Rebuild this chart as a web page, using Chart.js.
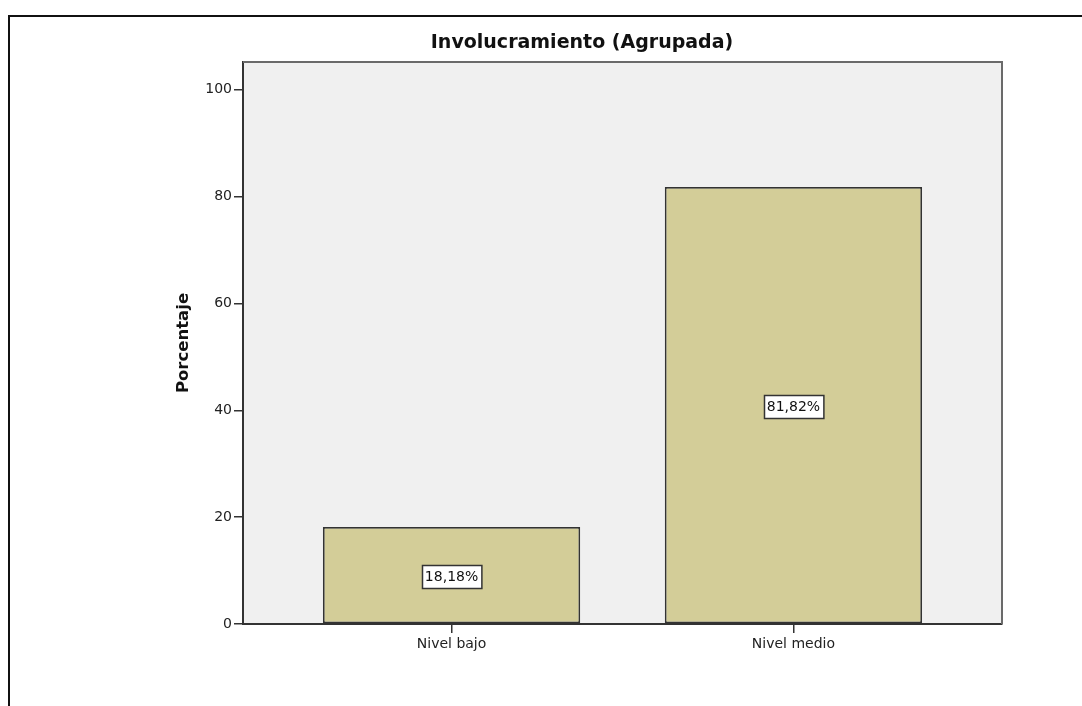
<!DOCTYPE html>
<html>
<head>
<meta charset="utf-8">
<script src="https://cdn.jsdelivr.net/npm/chart.js@4/dist/chart.umd.min.js"></script>
<style>
  html, body { margin: 0; padding: 0; background: #fff; }
  #wrap { width: 1082px; height: 706px; }
</style>
</head>
<body>
<div id="wrap"><canvas id="c" width="1082" height="706"></canvas></div>
<script>
const chartTitle = 'Involucramiento (Agrupada)';
const yAxisTitle = 'Porcentaje';
const categories = ['Nivel bajo', 'Nivel medio'];
const percentages = [18.18, 81.82];
const yTickValues = [0, 20, 40, 60, 80, 100];

const FONT = "'DejaVu Sans', sans-serif";

function formatPct(v) {
  return v.toFixed(2).replace('.', ',') + '%';
}

// Panel border, grey plot background, plot frame and boxed value labels
const plotFrame = {
  id: 'plotFrame',
  beforeDraw(chart) {
    const { ctx, chartArea: a } = chart;
    ctx.save();
    ctx.fillStyle = '#ffffff';
    ctx.fillRect(0, 0, chart.width, chart.height);
    ctx.fillStyle = '#111111';
    ctx.fillRect(8, 15, chart.width, 2);
    ctx.fillRect(8, 15, 2, chart.height);
    ctx.fillStyle = '#f0f0f0';
    ctx.fillRect(a.left, a.top, a.right - a.left, a.bottom - a.top);
    ctx.restore();
  },
  afterDatasetsDraw(chart) {
    const { ctx, chartArea: a } = chart;
    ctx.save();
    ctx.strokeStyle = '#6a6a6a';
    ctx.lineWidth = 2;
    ctx.beginPath();
    ctx.moveTo(a.left, a.top);
    ctx.lineTo(a.right, a.top);
    ctx.lineTo(a.right, a.bottom);
    ctx.stroke();

    const meta = chart.getDatasetMeta(0);
    ctx.font = '14px ' + FONT;
    ctx.textAlign = 'center';
    ctx.textBaseline = 'middle';
    meta.data.forEach((bar, i) => {
      const txt = formatPct(percentages[i]);
      const cy = (bar.y + bar.base) / 2 + 1.5;
      const w = ctx.measureText(txt).width + 6;
      const h = 23;
      const x0 = Math.round(bar.x - w / 2) + 0.5;
      const y0 = Math.round(cy - h / 2) + 0.5;
      ctx.fillStyle = '#ffffff';
      ctx.fillRect(x0, y0, w, h);
      ctx.strokeStyle = '#333333';
      ctx.lineWidth = 1.5;
      ctx.strokeRect(x0, y0, w, h);
      ctx.fillStyle = '#111111';
      ctx.fillText(txt, bar.x, cy + 0.5);
    });
    ctx.restore();
  }
};

new Chart(document.getElementById('c'), {
  type: 'bar',
  data: {
    datasets: [{
      data: categories.map((c, i) => ({ x: i, y: percentages[i] })),
      backgroundColor: '#d3cd98',
      borderColor: '#333333',
      borderWidth: 1.8,
      borderSkipped: false,
      barPercentage: 0.7526,
      categoryPercentage: 1
    }]
  },
  options: {
    responsive: false,
    animation: false,
    layout: { padding: { left: 162, right: 80, top: 0, bottom: 0 } },
    plugins: {
      legend: { display: false },
      tooltip: { enabled: false },
      title: {
        display: true,
        text: chartTitle,
        color: '#111111',
        font: { family: FONT, size: 19, weight: 'bold' },
        padding: { top: 32, bottom: 7.2 }
      }
    },
    scales: {
      x: {
        type: 'linear',
        offset: false,
        min: -0.61,
        max: 1.61,
        afterBuildTicks: s => { s.ticks = categories.map((c, i) => ({ value: i })); },
        afterFit: s => { s.height = 82; },
        ticks: {
          callback: v => categories[v],
          color: '#222222',
          font: { family: FONT, size: 14 },
          padding: 3,
          autoSkip: false,
          maxRotation: 0
        },
        grid: { offset: false, drawOnChartArea: false, drawTicks: true, tickLength: 9, color: '#333333', lineWidth: 1.5 },
        border: { display: true, color: '#333333', width: 2 }
      },
      y: {
        min: 0,
        max: 105.2,
        afterBuildTicks: s => { s.ticks = yTickValues.map(v => ({ value: v })); },
        afterFit: s => { s.width = 81; },
        ticks: {
          color: '#222222',
          font: { family: FONT, size: 14 },
          padding: 2
        },
        grid: { drawOnChartArea: false, drawTicks: true, tickLength: 9, color: '#333333', lineWidth: 1.5 },
        border: { display: true, color: '#333333', width: 2 },
        title: {
          display: true,
          text: yAxisTitle,
          color: '#111111',
          font: { family: FONT, size: 16.5, weight: 'bold' },
          padding: { top: 12, bottom: 0 }
        }
      }
    }
  },
  plugins: [plotFrame]
});
</script>
</body>
</html>
